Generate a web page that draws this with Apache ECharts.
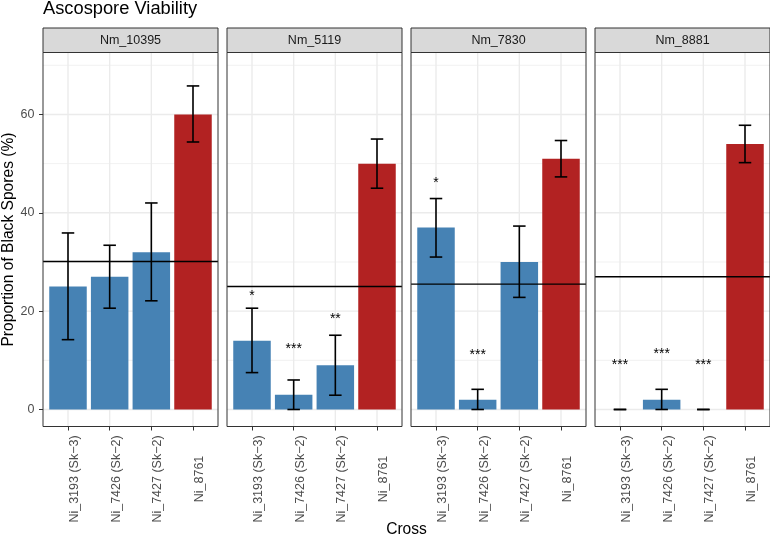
<!DOCTYPE html>
<html><head><meta charset="utf-8">
<script src="https://cdn.jsdelivr.net/npm/echarts@6/dist/echarts.min.js"></script>
<style>html,body{margin:0;padding:0;background:#fff}#c{width:770px;height:539px}</style>
</head><body><div id="c"></div>
<script>
// ---- data ----
const chartTitle = 'Ascospore Viability';
const yTitle = 'Proportion of Black Spores (%)';
const xTitle = 'Cross';
const panels = ['Nm_10395', 'Nm_5119', 'Nm_7830', 'Nm_8881'];
const crosses = ['Ni_3193 (Sk\u22123)', 'Ni_7426 (Sk\u22122)', 'Ni_7427 (Sk\u22122)', 'Ni_8761'];
const crossGroup = [0, 0, 0, 1]; // 0 = Sk strains, 1 = reference
const values = [[25, 27, 32, 60], [14, 3, 9, 50], [37, 2, 30, 51], [0, 2, 0, 54]];
const errLow = [[14.2, 20.6, 22.1, 54.4], [7.5, 0, 2.9, 45.0], [31.0, 0, 22.8, 47.3], [0, 0, 0, 50.2]];
const errHigh = [[35.9, 33.4, 42.0, 65.8], [20.6, 6.0, 15.1, 55.0], [42.9, 4.1, 37.3, 54.7], [0, 4.1, 0, 57.8]];
const refLine = [30.1, 25.0, 25.5, 27.0];
const sigLabels = [['', '', '', ''], ['*', '***', '**', ''], ['*', '***', '', ''], ['***', '***', '***', '']];
const sigY = [[null, null, null, null], [23.1, 12.3, 18.3, null], [46.1, 11.1, null, null], [9.1, 11.2, 9.1, null]];
const yTicks = [0, 20, 40, 60];
const yMinorTicks = [10, 30, 50, 70];
const xTicks = [0, 1, 2, 3];

// ---- style/layout ----
const FONT = 'Liberation Sans, Arial, sans-serif';
const groupColors = ['#4682B4', '#B22222'];
const panelLeft0 = 43, panelStep = 184, panelW = 175, panelTop = 52.5, panelH = 374, stripTop = 28;
const yMin = -3.46, yMax = 72.6;

const chart = echarts.init(document.getElementById('c'), null, {renderer: 'canvas'});
const grids = [], xAxes = [], yAxes = [], series = [], graphics = [];

panels.forEach((name, i) => {
  const L = panelLeft0 + panelStep * i;
  grids.push({left: L, top: panelTop, width: panelW, height: panelH, containLabel: false});
  xAxes.push({
    type: 'value', gridIndex: i, min: -0.6, max: 3.6, position: 'bottom',
    axisLine: {show: false, onZero: false}, splitLine: {show: false}, minorTick: {show: false}, minorSplitLine: {show: false},
    axisTick: {show: true, customValues: xTicks, length: 4, lineStyle: {color: '#333', width: 1}},
    axisLabel: {show: true, customValues: xTicks, formatter: v => '{c|' + crosses[Math.round(v)] + '}', rotate: 90,
      align: 'right', verticalAlign: 'middle', margin: 6.5, padding: [13, 0, 0, 0], hideOverlap: false,
      rich: {c: {width: 92, align: 'center', color: '#4D4D4D', fontSize: 12.5, fontFamily: FONT}}}
  });
  yAxes.push({
    type: 'value', gridIndex: i, min: yMin, max: yMax, position: 'left',
    axisLine: {show: false, onZero: false}, splitLine: {show: false}, minorTick: {show: false}, minorSplitLine: {show: false},
    axisTick: {show: i === 0, customValues: yTicks, length: 4, lineStyle: {color: '#333', width: 1}},
    axisLabel: {show: i === 0, customValues: yTicks, margin: 8.5, color: '#4D4D4D', fontSize: 12.5, fontFamily: FONT}
  });
  // gridlines
  series.push({
    type: 'custom', coordinateSystem: 'cartesian2d', xAxisIndex: i, yAxisIndex: i, z: 1, silent: true,
    data: [[0, 0]],
    renderItem: (params, api) => {
      const cs = params.coordSys; const ch = [];
      yMinorTicks.forEach(v => { const y = api.coord([0, v])[1];
        ch.push({type: 'line', shape: {x1: cs.x, y1: y, x2: cs.x + cs.width, y2: y}, style: {stroke: '#EBEBEB', lineWidth: 0.7}}); });
      yTicks.forEach(v => { const y = api.coord([0, v])[1];
        ch.push({type: 'line', shape: {x1: cs.x, y1: y, x2: cs.x + cs.width, y2: y}, style: {stroke: '#EBEBEB', lineWidth: 1.4}}); });
      xTicks.forEach(v => { const x = api.coord([v, 0])[0];
        ch.push({type: 'line', shape: {x1: x, y1: cs.y, x2: x, y2: cs.y + cs.height}, style: {stroke: '#EBEBEB', lineWidth: 1.4}}); });
      return {type: 'group', children: ch};
    }
  });
  // bars
  series.push({
    type: 'custom', name: name, coordinateSystem: 'cartesian2d', xAxisIndex: i, yAxisIndex: i, z: 2,
    data: values[i].map((v, j) => [j, v, crossGroup[j]]),
    renderItem: (params, api) => {
      const x = api.value(0), v = api.value(1), g = api.value(2);
      const p0 = api.coord([x - 0.45, v]), p1 = api.coord([x + 0.45, 0]);
      return {type: 'rect', shape: {x: p0[0], y: p0[1], width: p1[0] - p0[0], height: p1[1] - p0[1]},
        style: {fill: groupColors[g]}};
    }
  });
  // reference line
  series.push({
    type: 'custom', coordinateSystem: 'cartesian2d', xAxisIndex: i, yAxisIndex: i, z: 3, silent: true,
    data: [[0, refLine[i]]],
    renderItem: (params, api) => {
      const cs = params.coordSys; const y = api.coord([0, api.value(1)])[1];
      return {type: 'line', shape: {x1: cs.x, y1: y, x2: cs.x + cs.width, y2: y}, style: {stroke: '#000', lineWidth: 1.4}};
    }
  });
  // error bars
  series.push({
    type: 'custom', coordinateSystem: 'cartesian2d', xAxisIndex: i, yAxisIndex: i, z: 4,
    data: values[i].map((v, j) => [j, errLow[i][j], errHigh[i][j]]),
    renderItem: (params, api) => {
      const x = api.value(0), lo = api.value(1), hi = api.value(2);
      const a = api.coord([x, lo]), b = api.coord([x, hi]);
      const cl = api.coord([x - 0.15, lo])[0], cr = api.coord([x + 0.15, lo])[0];
      const st = {stroke: '#000', lineWidth: 1.6};
      return {type: 'group', children: [
        {type: 'line', shape: {x1: a[0], y1: a[1], x2: b[0], y2: b[1]}, style: st},
        {type: 'line', shape: {x1: cl, y1: a[1], x2: cr, y2: a[1]}, style: st},
        {type: 'line', shape: {x1: cl, y1: b[1], x2: cr, y2: b[1]}, style: st}
      ]};
    }
  });
  // significance labels
  const sigData = [];
  sigLabels[i].forEach((s, j) => { if (s) sigData.push([j, sigY[i][j], j]); });
  if (sigData.length) {
    series.push({
      type: 'custom', coordinateSystem: 'cartesian2d', xAxisIndex: i, yAxisIndex: i, z: 5, silent: true,
      data: sigData,
      renderItem: (params, api) => {
        const p = api.coord([api.value(0), api.value(1)]);
        return {type: 'text', x: p[0], y: p[1], style: {text: sigLabels[i][api.value(2)], font: '14px ' + FONT,
          fill: '#000', align: 'center', verticalAlign: 'middle'}};
      }
    });
  }
  // strip
  graphics.push({type: 'rect', shape: {x: L, y: stripTop, width: panelW, height: panelTop - stripTop},
    style: {fill: '#D9D9D9', stroke: '#333', lineWidth: 1}, z: 100});
  graphics.push({type: 'text', x: L + panelW / 2, y: (stripTop + panelTop) / 2,
    style: {text: name, font: '12.5px ' + FONT, fill: '#1A1A1A', align: 'center', verticalAlign: 'middle'}, z: 101});
  // panel border
  graphics.push({type: 'rect', shape: {x: L, y: panelTop, width: panelW, height: panelH},
    style: {fill: 'none', stroke: '#333', lineWidth: 1}, z: 100});
});

graphics.push({type: 'text', x: 43, y: 8.5, style: {text: chartTitle, font: '18.3px ' + FONT, fill: '#000',
  align: 'left', verticalAlign: 'middle'}, z: 101});
graphics.push({type: 'text', x: 9, y: panelTop + panelH / 2, rotation: Math.PI / 2,
  style: {text: yTitle, font: '15.6px ' + FONT, fill: '#000', align: 'center', verticalAlign: 'middle'}, z: 101});
graphics.push({type: 'text', x: (panelLeft0 + panelLeft0 + panelStep * 3 + panelW) / 2, y: 529.5,
  style: {text: xTitle, font: '15.6px ' + FONT, fill: '#000', align: 'center', verticalAlign: 'middle'}, z: 101});

chart.setOption({
  animation: false,
  backgroundColor: '#fff',
  grid: grids, xAxis: xAxes, yAxis: yAxes, series: series,
  graphic: {elements: graphics}
});
</script></body></html>
